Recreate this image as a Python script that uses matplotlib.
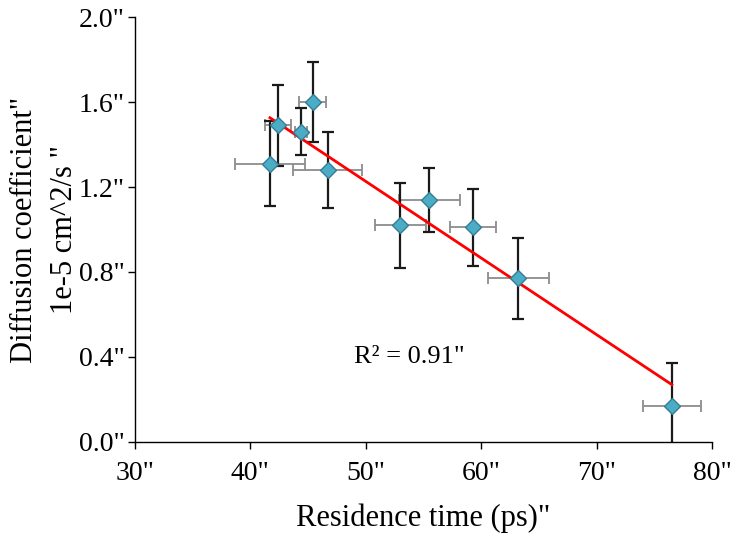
import matplotlib
matplotlib.use("Agg")
import matplotlib.pyplot as plt
import numpy as np

# ---- Data ----
residence_time = [41.7, 42.4, 44.4, 45.4, 46.7, 53.0, 55.5, 59.3, 63.2, 76.5]
diffusion = [1.31, 1.49, 1.46, 1.60, 1.28, 1.02, 1.14, 1.01, 0.77, 0.17]
x_err = [3.0, 1.1, 0.55, 1.15, 3.0, 2.2, 2.65, 2.0, 2.65, 2.5]
y_err = [0.20, 0.19, 0.11, 0.19, 0.18, 0.20, 0.15, 0.18, 0.19, 0.20]

x_ticks = [30, 40, 50, 60, 70, 80]
x_tick_labels = ['30"', '40"', '50"', '60"', '70"', '80"']
y_ticks = [0.0, 0.4, 0.8, 1.2, 1.6, 2.0]
y_tick_labels = ['0.0"', '0.4"', '0.8"', '1.2"', '1.6"', '2.0"']
r2_text = 'R\u00b2 = 0.91"'

plt.rcParams['font.family'] = ['Liberation Serif', 'DejaVu Serif']

# ---- Figure setup ----
fig = plt.figure(figsize=(7.45, 5.4), dpi=100)
ax = fig.add_axes([0.181, 0.1815, 0.775, 0.787])

# x error bars (gray) and y error bars (black)
ax.errorbar(residence_time, diffusion, xerr=x_err, fmt='none',
            ecolor='#8c8c8c', elinewidth=1.3, capsize=4, capthick=1.3, zorder=2)
ax.errorbar(residence_time, diffusion, yerr=y_err, fmt='none',
            ecolor='#1a1a1a', elinewidth=1.6, capsize=4.5, capthick=1.6, zorder=2)

# linear fit
slope, intercept = np.polyfit(residence_time, diffusion, 1)
fit_x = np.array([min(residence_time), max(residence_time)])
ax.plot(fit_x, slope * fit_x + intercept, color='#ff0000', lw=2, zorder=3)

# markers
ax.plot(residence_time, diffusion, linestyle='none', marker='D', markersize=8,
        markerfacecolor='#4bacc6', markeredgecolor='#357d92',
        markeredgewidth=1, zorder=4)

ax.text(53.8, 0.40, r2_text, fontsize=19, ha='center', va='center')

# ---- Axes ----
ax.set_xlim(30, 80)
ax.set_ylim(0, 2.0)
ax.set_xticks(x_ticks)
ax.set_xticklabels(x_tick_labels)
ax.set_yticks(y_ticks)
ax.set_yticklabels(y_tick_labels)
ax.tick_params(axis='both', direction='out', length=5, width=1,
               labelsize=20, colors='black')
ax.tick_params(axis='x', pad=9)
ax.tick_params(axis='y', pad=2)

for side in ['top', 'right']:
    ax.spines[side].set_visible(False)
for side in ['left', 'bottom']:
    ax.spines[side].set_linewidth(1)

ax.set_xlabel('Residence time (ps)"', fontsize=22, labelpad=12)
ax.set_ylabel('Diffusion coefficient"\n1e-5 cm^2/s "', fontsize=22,
              linespacing=1.5, labelpad=0)

fig.savefig('out.png', dpi=100)
